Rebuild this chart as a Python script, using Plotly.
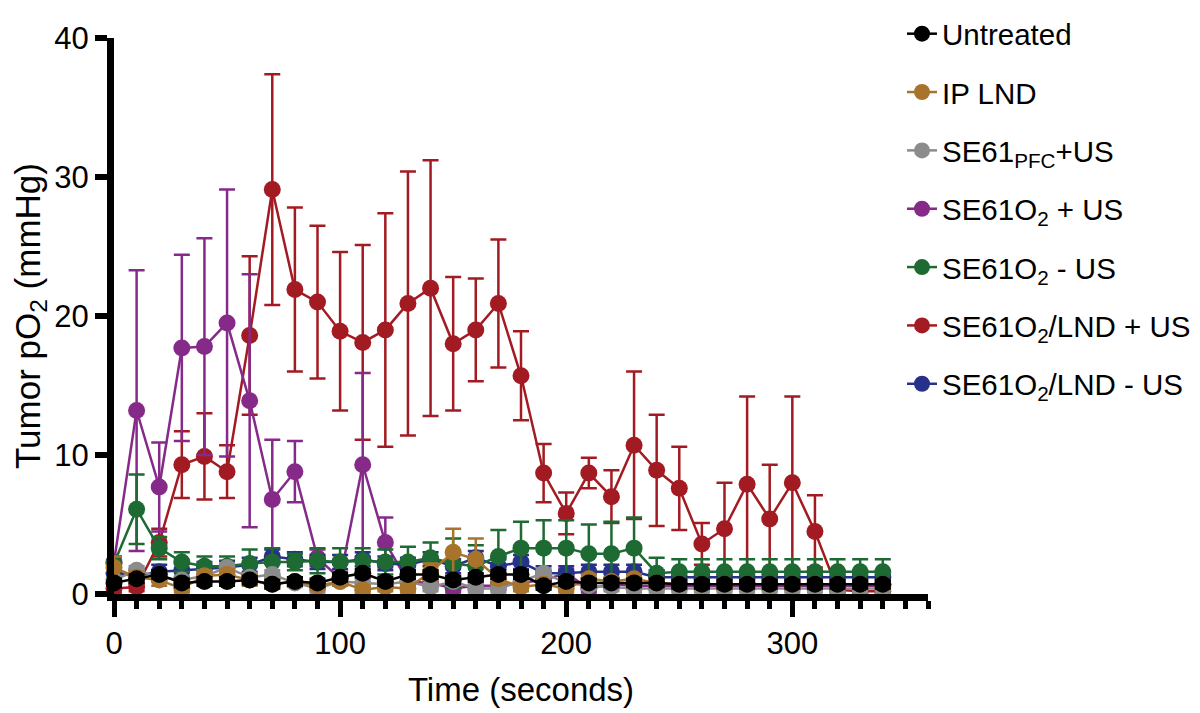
import plotly.graph_objects as go

# 時間軸 (秒)
time_s = list(range(0, 350, 10))

# 各群の平均値 (mmHg) と誤差
untreated = [0.8, 1.1, 1.4, 0.8, 0.9, 0.9, 1.0, 0.7, 0.9, 0.8, 1.2, 1.5, 0.9, 1.4, 1.4, 1.0, 1.2, 1.4,
             1.4, 0.6, 0.9, 0.8, 0.8, 0.8, 0.8, 0.7, 0.7, 0.7, 0.7, 0.7, 0.7, 0.7, 0.7, 0.7, 0.7]
untreated_err = [0.3] * 35

ip_lnd = [1.9, 1.2, 1.0, 0.4, 1.3, 1.4, 1.0, 0.7, 0.9, 0.6, 0.9, 0.3, 0.5, 0.4, 1.6, 3.0, 2.5, 1.1,
          0.5, 0.7, 0.4, 1.1, 0.9, 1.1, 0.8, 0.7, 0.7, 0.7, 0.7, 0.7, 0.7, 0.7, 0.7, 0.7, 0.7]
ip_lnd_err = [0.8, 0.4, 0.4, 0.3, 0.4, 0.4, 0.4, 0.3, 0.3, 0.3, 0.3, 0.3, 0.3, 0.3, 0.6, 1.7, 1.5, 0.4,
              0.3, 0.3, 0.3, 0.3, 0.3, 0.3, 0.3, 0.3, 0.3, 0.3, 0.3, 0.3, 0.3, 0.3, 0.3, 0.3, 0.3]

se61_pfc = [1.0, 1.7, 1.2, 1.0, 1.3, 1.9, 1.2, 1.4, 0.8, 0.4, 0.9, 0.8, 0.7, 0.9, 0.5, 0.9, 0.4, 0.4,
            0.9, 1.5, 0.8, 0.6, 0.5, 0.4, 0.4, 0.4, 0.4, 0.4, 0.4, 0.4, 0.4, 0.4, 0.4, 0.4, 0.4]
se61_pfc_err = [0.3] * 35

se61o2_us = [2.3, 13.2, 7.7, 17.7, 17.8, 19.5, 13.9, 6.8, 8.8, 2.6, 1.1, 9.3, 3.7, 0.9, 0.8, 0.4, 0.6,
             0.6, 0.8, 1.0, 1.5, 0.4, 0.7, 0.6, 0.6, 0.6, 0.6, 0.6, 0.6, 0.6, 0.6, 0.6, 0.6, 0.6, 0.6]
se61o2_us_err = [0.4, 10.1, 3.2, 6.7, 7.8, 9.6, 9.1, 4.3, 2.2, 0.6, 0.5, 6.6, 1.8, 0.5, 0.3, 0.3, 0.3,
                 0.3, 0.3, 0.3, 0.3, 0.3, 0.3, 0.3, 0.3, 0.3, 0.3, 0.3, 0.3, 0.3, 0.3, 0.3, 0.3, 0.3, 0.3]

se61o2_nous = [2.2, 6.1, 3.3, 2.3, 2.0, 2.0, 2.2, 2.3, 2.3, 2.4, 2.3, 2.4, 2.3, 2.3, 2.6, 2.2, 2.0, 2.7,
               3.3, 3.3, 3.3, 2.9, 2.9, 3.3, 1.5, 1.6, 1.6, 1.6, 1.6, 1.6, 1.6, 1.6, 1.6, 1.6, 1.6]
se61o2_nous_err = [0.5, 2.5, 0.8, 0.7, 0.7, 0.7, 1.0, 1.0, 0.6, 0.9, 1.0, 0.9, 0.9, 1.1, 1.1, 1.8, 1.5,
                   1.9, 1.9, 2.0, 2.0, 2.1, 2.3, 2.2, 1.1, 0.9, 0.9, 0.9, 0.9, 0.9, 0.9, 0.9, 0.9, 0.9, 0.9]

lnd_us = [0.4, 0.5, 3.7, 9.3, 9.9, 8.8, 18.6, 29.1, 21.9, 21.0, 18.9, 18.1, 19.0, 20.9, 22.0, 18.0,
          19.0, 20.9, 15.7, 8.7, 5.8, 8.7, 7.0, 10.7, 8.9, 7.6, 3.6, 4.7, 7.9, 5.4, 8.0, 4.5, 0.3, 0.2, 0.2]
lnd_us_err = [0.3, 0.3, 1.0, 2.4, 3.1, 1.9, 5.7, 8.3, 5.9, 5.5, 5.7, 7.0, 8.4, 9.5, 9.2, 4.8, 3.7, 4.6,
              3.2, 2.1, 1.5, 1.1, 1.9, 5.3, 4.0, 3.0, 1.5, 3.3, 6.3, 3.9, 6.2, 2.6, 0.2, 0.2, 0.2]

lnd_nous = [1.5, 1.3, 1.6, 1.7, 1.8, 1.9, 2.1, 2.7, 2.5, 2.3, 2.3, 2.5, 2.2, 2.1, 2.5, 2.0, 2.6, 2.0,
            2.3, 1.5, 1.5, 1.6, 1.6, 1.6, 1.2, 1.2, 1.2, 1.2, 1.2, 1.2, 1.2, 1.2, 1.2, 1.2, 1.2]
lnd_nous_err = [0.5] * 35

# 凡例名・色
names = ["Untreated", "IP LND", "SE61<sub>PFC</sub>+US", "SE61O<sub>2</sub> + US",
         "SE61O<sub>2</sub> - US", "SE61O<sub>2</sub>/LND + US", "SE61O<sub>2</sub>/LND - US"]
colors = ["#000000", "#A8732B", "#8C8C8C", "#862A8A", "#1D6A33", "#A31B22", "#28318A"]

series = [untreated, ip_lnd, se61_pfc, se61o2_us, se61o2_nous, lnd_us, lnd_nous]
errors = [untreated_err, ip_lnd_err, se61_pfc_err, se61o2_us_err, se61o2_nous_err, lnd_us_err, lnd_nous_err]

fig = go.Figure()

# 描画順 (下から): 赤, 紫, 青, 緑, 灰, 茶, 黒
draw_order = [5, 3, 6, 4, 2, 1, 0]
for i in draw_order:
    fig.add_trace(go.Scatter(
        x=time_s, y=series[i], name=names[i], mode="lines+markers",
        line=dict(color=colors[i], width=2.5),
        marker=dict(color=colors[i], size=17),
        error_y=dict(type="data", array=errors[i], color=colors[i], thickness=2.5, width=8),
        legendgroup=str(i), legendrank=i + 1, cliponaxis=False,
    ))

font = "Arial, Liberation Sans, sans-serif"

fig.update_xaxes(
    range=[0, 360], showline=True, linecolor="black", linewidth=7,
    ticks="outside", tickwidth=5, ticklen=16, tickcolor="black", dtick=100,
    minor=dict(dtick=10, ticks="outside", ticklen=8, tickwidth=5, tickcolor="black"),
    ticklabelstandoff=0, showgrid=False, zeroline=False,
    tickfont=dict(size=31, color="black"),
    title=dict(text="Time (seconds)", font=dict(size=33, color="black"), standoff=20),
)
fig.update_yaxes(
    range=[0, 40], showline=True, linecolor="black", linewidth=7,
    ticks="outside", tickwidth=6, ticklen=12, tickcolor="black", dtick=10,
    showgrid=False, zeroline=False,
    tickfont=dict(size=31, color="black"),
    title=dict(text="Tumor pO<sub>2</sub> (mmHg)", font=dict(size=35, color="black"), standoff=15),
)

# ページ余白(8px)の分だけ余白を補正
fig.update_layout(
    width=1200, height=713,
    margin=dict(l=106, r=280, t=30, b=127, autoexpand=False),
    plot_bgcolor="white", paper_bgcolor="white",
    font=dict(family=font, color="black"),
    legend=dict(xref="container", yref="container", x=0.745, xanchor="left", y=1.03, yanchor="top",
                font=dict(size=29.5), tracegroupgap=17, maxheight=700, bgcolor="rgba(0,0,0,0)"),
)

fig.write_html("out.html")
